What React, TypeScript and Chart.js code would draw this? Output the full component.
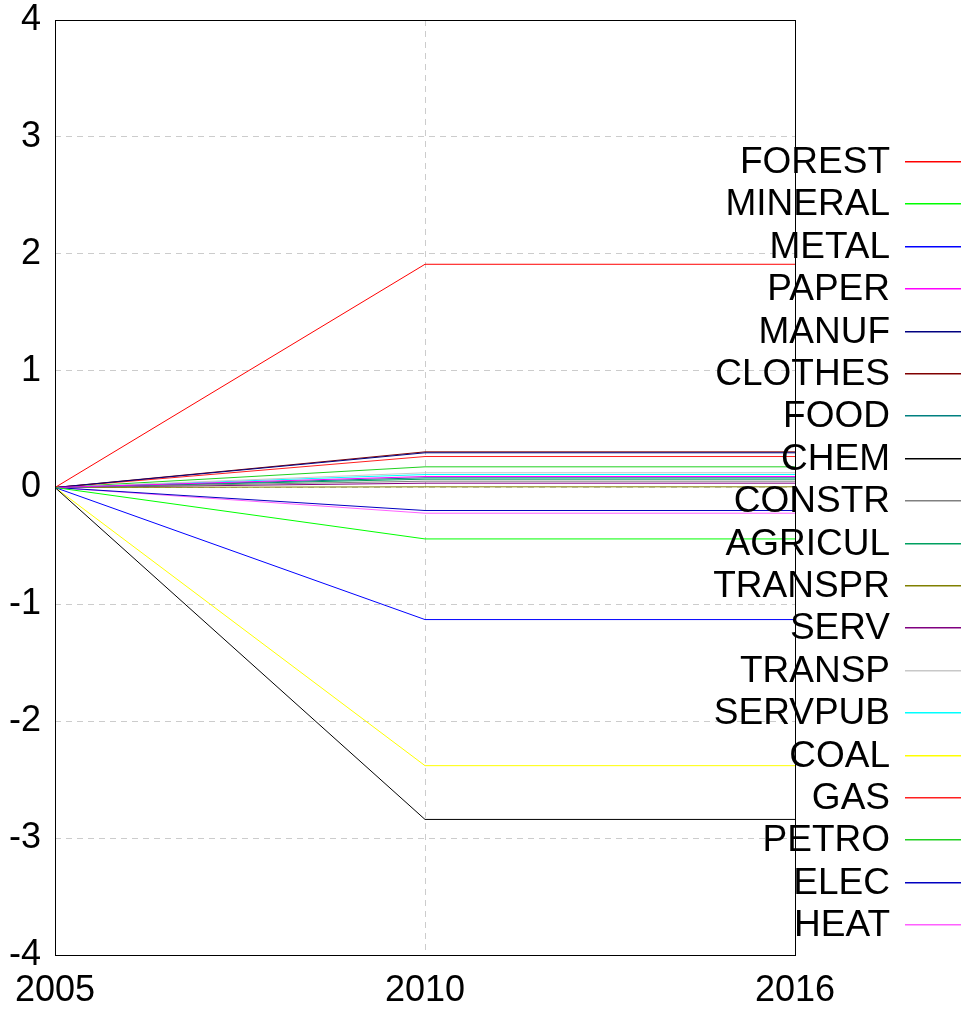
import React, { useEffect, useRef } from "react";
import { Chart, registerables } from "chart.js";

Chart.register(...registerables);

const years = ["2005", "2010", "2016"];

const seriesNames = [
  "FOREST", "MINERAL", "METAL", "PAPER", "MANUF", "CLOTHES", "FOOD", "CHEM",
  "CONSTR", "AGRICUL", "TRANSPR", "SERV", "TRANSP", "SERVPUB", "COAL", "GAS",
  "PETRO", "ELEC", "HEAT",
];

const seriesColors = [
  "#ff0000", "#00ff00", "#0000ff", "#ff00ff", "#000080", "#800000", "#008080", "#000000",
  "#808080", "#00a060", "#808000", "#800080", "#c8c8c8", "#00ffff", "#ffff00", "#ff2020",
  "#20d020", "#0000c0", "#ff60ff",
];

// values at 2005, 2010, 2016
const FOREST = [0, 1.91, 1.91];
const MINERAL = [0, -0.44, -0.44];
const METAL = [0, -1.13, -1.13];
const PAPER = [0, 0.094, 0.094];
const MANUF = [0, 0.297, 0.297];
const CLOTHES = [0, 0.305, 0.305];
const FOOD = [0, 0.083, 0.083];
const CHEM = [0, -2.84, -2.84];
const CONSTR = [0, 0.054, 0.054];
const AGRICUL = [0, 0.071, 0.071];
const TRANSPR = [0, 0.006, 0.006];
const SERV = [0, 0.037, 0.037];
const TRANSP = [0, 0.126, 0.126];
const SERVPUB = [0, 0.111, 0.111];
const COAL = [0, -2.38, -2.38];
const GAS = [0, 0.265, 0.265];
const PETRO = [0, 0.177, 0.177];
const ELEC = [0, -0.197, -0.197];
const HEAT = [0, -0.22, -0.22];

const seriesValues = [
  FOREST, MINERAL, METAL, PAPER, MANUF, CLOTHES, FOOD, CHEM, CONSTR, AGRICUL,
  TRANSPR, SERV, TRANSP, SERVPUB, COAL, GAS, PETRO, ELEC, HEAT,
];

const FONT = "'Liberation Sans', Arial, sans-serif";

const frameAndLegend = {
  id: "frameAndLegend",
  afterDraw(chart: any) {
    const ctx = chart.ctx;
    const a = chart.chartArea;
    ctx.save();
    ctx.strokeStyle = "#000000";
    ctx.lineWidth = 1;
    ctx.strokeRect(Math.round(a.left) + 0.5, Math.round(a.top) + 0.5, Math.round(a.right - a.left), Math.round(a.bottom - a.top));
    ctx.font = `37px ${FONT}`;
    ctx.textAlign = "right";
    ctx.textBaseline = "middle";
    seriesNames.forEach((name, i) => {
      const y = Math.round(162 + i * 42.4);
      ctx.fillStyle = "#000000";
      ctx.fillText(name, 890, y + 1);
      ctx.fillStyle = seriesColors[i];
      ctx.fillRect(905, y - 1, 56, 1.5);
    });
    ctx.restore();
  },
};

export default function App() {
  const ref = useRef<HTMLCanvasElement>(null);
  useEffect(() => {
    document.body.style.margin = "0";
    const chart = new Chart(ref.current!, {
      type: "line",
      data: {
        labels: years,
        datasets: seriesNames.map((name, i) => ({
          label: name,
          data: seriesValues[i],
          borderColor: seriesColors[i],
          backgroundColor: seriesColors[i],
          borderWidth: 1,
          pointRadius: 0,
          tension: 0,
          fill: false,
        })),
      },
      options: {
        responsive: false,
        animation: false,
        layout: { padding: { top: 20, right: 166, left: 0, bottom: 0 } },
        plugins: { legend: { display: false }, tooltip: { enabled: false } },
        scales: {
          x: {
            type: "category",
            offset: false,
            afterFit: (s: any) => { s.height = 62; s.paddingLeft = 0; s.paddingRight = 0; },
            grid: { color: "#cccccc", drawTicks: false },
            border: { display: false, dash: [6, 5] },
            ticks: { color: "#000", font: { size: 36, family: FONT }, padding: 14, maxRotation: 0 },
          },
          y: {
            min: -4,
            max: 4,
            afterFit: (s: any) => { s.width = 55; s.paddingTop = 0; s.paddingBottom = 0; },
            grid: { color: "#cccccc", drawTicks: false },
            border: { display: false, dash: [6, 5] },
            ticks: { stepSize: 1, color: "#000", font: { size: 36, family: FONT }, padding: 14 },
          },
        },
      },
      plugins: [frameAndLegend],
    });
    return () => chart.destroy();
  }, []);
  return <canvas ref={ref} width={961} height={1017} style={{ display: "block" }} />;
}
